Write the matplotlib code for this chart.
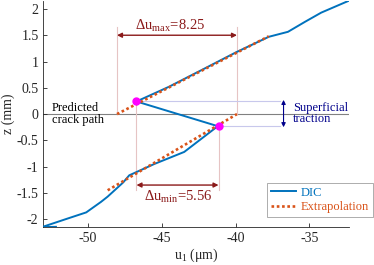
import matplotlib
matplotlib.use("Agg")
import matplotlib.pyplot as plt

plt.rcParams['font.family'] = ['Liberation Serif', 'DejaVu Serif']
plt.rcParams['mathtext.fontset'] = 'custom'
plt.rcParams['mathtext.rm'] = 'Liberation Serif'
plt.rcParams['mathtext.it'] = 'Liberation Serif:italic'

# DIC profile (u1 in um, z in mm)
dic_u = [-52.15, -53.1, -51.5, -50.1, -49.1, -48.65, -47.6, -47.19, -45.5, -43.47, -41.2,
         -46.7, -44.5, -42.0, -39.93, -37.75, -36.45, -35.3, -34.2, -32.3]
dic_z = [-2.145, -2.15, -2.0, -1.87, -1.67, -1.57, -1.30, -1.165, -0.95, -0.72, -0.23,
         0.24, 0.52, 0.88, 1.18, 1.47, 1.565, 1.755, 1.93, 2.16]

# Extrapolation lines
ext_up_u = [-48.02, -37.75]
ext_up_z = [0.0, 1.48]
ext_lo_u = [-48.65, -39.9]
ext_lo_z = [-1.45, 0.0]

# Crack tip points
tip_u = [-46.7, -41.15]
tip_z = [0.24, -0.23]

dumax_u = [-48.02, -39.9]
dumin_u = [-46.7, -41.15]

xticks = [-50, -45, -40, -35]
yticks = [-2, -1.5, -1, -0.5, 0, 0.5, 1, 1.5, 2]

blue = '#0072BD'
orange = '#D95319'
dred = '#8B1A1A'
navy = '#00008B'

fig = plt.figure(figsize=(3.74, 2.65), dpi=100)
ax = fig.add_axes([0.116, 0.143, 0.816, 0.853])

ax.set_xlim(-53.0, -32.35)
ax.set_ylim(-2.15, 2.15)

# zero line
ax.axhline(0, color='#808080', lw=0.8, zorder=1)

# guide lines
vl = '#E6C4C4'
ax.plot([dumax_u[0]] * 2, [0, 1.66], color=vl, lw=0.8, zorder=1)
ax.plot([dumax_u[1]] * 2, [0, 1.66], color=vl, lw=0.8, zorder=1)
ax.plot([dumin_u[0]] * 2, [-1.45, tip_z[0]], color=vl, lw=0.8, zorder=1)
ax.plot([dumin_u[1]] * 2, [-1.45, tip_z[1]], color=vl, lw=0.8, zorder=1)
hl = '#C8C8EC'
ax.plot([tip_u[0], -37.0], [tip_z[0]] * 2, color=hl, lw=0.8, zorder=1)
ax.plot([tip_u[1], -37.0], [tip_z[1]] * 2, color=hl, lw=0.8, zorder=1)

ax.plot(dic_u, dic_z, color=blue, lw=1.4, label='DIC', zorder=3)
ax.plot(ext_up_u, ext_up_z, color=orange, lw=1.9, ls=(0, (1, 1)), label='Extrapolation', zorder=4)
ax.plot(ext_lo_u, ext_lo_z, color=orange, lw=1.9, ls=(0, (1, 1)), zorder=4)
ax.plot(tip_u, tip_z, 'o', color='#FF00FF', ms=5, zorder=5)

# arrows
ax.annotate('', xy=(dumax_u[0], 1.5), xytext=(dumax_u[1], 1.5),
            arrowprops=dict(arrowstyle='<|-|>', color=dred, lw=1.0, mutation_scale=7,
                            shrinkA=0, shrinkB=0))
ax.annotate('', xy=(dumin_u[0], -1.35), xytext=(dumin_u[1], -1.35),
            arrowprops=dict(arrowstyle='<|-|>', color=dred, lw=1.0, mutation_scale=7,
                            shrinkA=0, shrinkB=0))
ax.annotate('', xy=(-36.75, 0.27), xytext=(-36.75, -0.25),
            arrowprops=dict(arrowstyle='<|-|>', color=navy, lw=0.8, mutation_scale=6,
                            shrinkA=0, shrinkB=0))

ax.text(-44.4, 1.68, r'$\Delta$u$_{\mathrm{max}}$=8.25', color=dred, fontsize=10.5,
        ha='center', va='center')
ax.text(-43.9, -1.58, r'$\Delta$u$_{\mathrm{min}}$=5.56', color=dred, fontsize=10.5,
        ha='center', va='center')
ax.text(-36.1, 0.01, 'Superficial\ntraction', color=navy, fontsize=9,
        ha='left', va='center', linespacing=0.95)
ax.text(-52.45, 0.0, 'Predicted\ncrack path', color='black', fontsize=9,
        ha='left', va='center', linespacing=0.95)

ax.set_xticks(xticks)
ax.set_xticklabels([str(t) for t in xticks])
ax.set_yticks(yticks)
ax.set_yticklabels([('%g' % t) for t in yticks])
ax.tick_params(direction='in', length=3, width=0.6, colors='#262626', labelsize=10)
for s in ['top', 'right']:
    ax.spines[s].set_visible(False)
for s in ['left', 'bottom']:
    ax.spines[s].set_color('#262626')
    ax.spines[s].set_linewidth(0.6)

ax.set_xlabel('u$_1$ (μm)', fontsize=10, color='#262626', labelpad=1)
ax.set_ylabel('z (mm)', fontsize=10, color='#262626', labelpad=1)

leg = ax.legend(loc='lower right', bbox_to_anchor=(0.997, 0.181),
                bbox_transform=fig.transFigure, fontsize=9, fancybox=False,
                edgecolor='#A0A0A0', framealpha=1, borderaxespad=0,
                handlelength=2.0, borderpad=0.3, labelspacing=0.2, handletextpad=0.4)
for t, c in zip(leg.get_texts(), [blue, orange]):
    t.set_color(c)
leg.get_frame().set_linewidth(0.6)

fig.savefig('out.png', dpi=100)
